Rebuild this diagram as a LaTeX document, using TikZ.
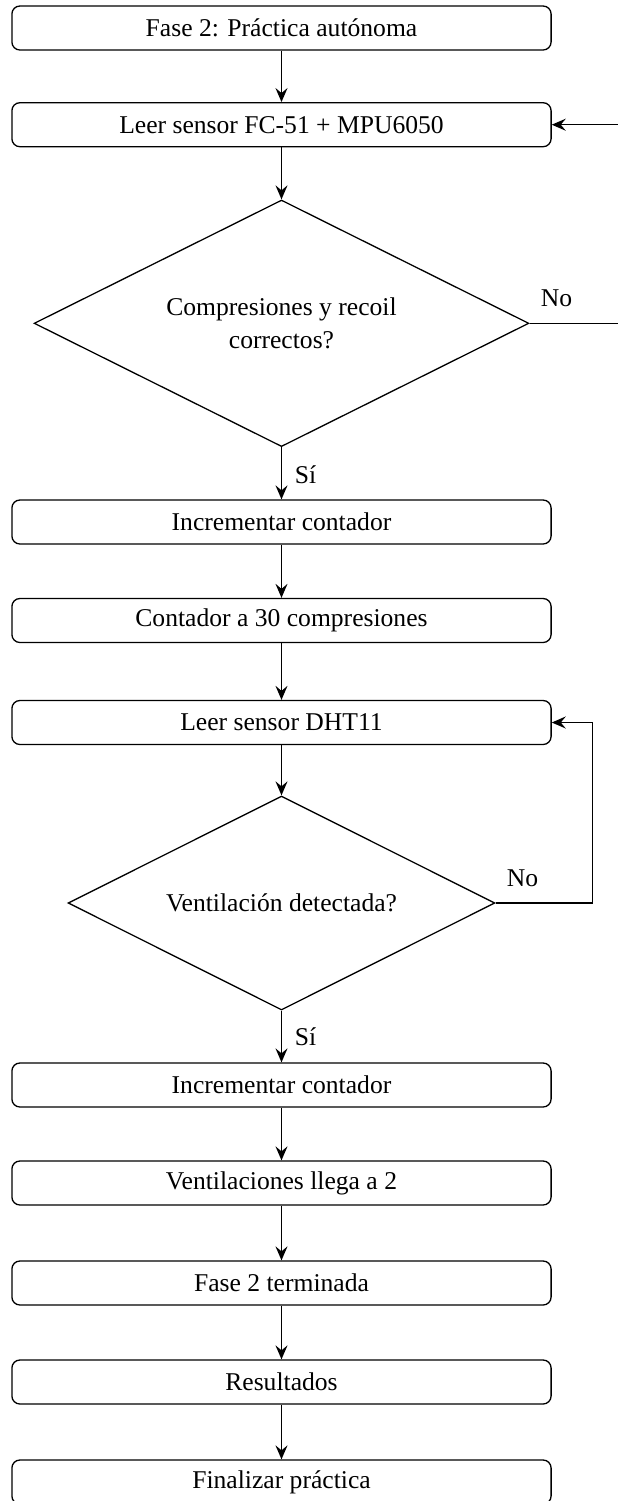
\documentclass[tikz,border=0pt]{standalone}
\usepackage{fontspec}
\setmainfont{Liberation Serif}
\usetikzlibrary{shapes.geometric,arrows.meta,calc}
\begin{document}
\begin{tikzpicture}[x=0.5pt,y=-0.5pt,
  font=\fontsize{12.8}{16.5}\selectfont,
  stepbox/.style={draw, line width=0.65pt, rounded corners=4pt, minimum width=269.6pt, minimum height=22pt, inner sep=0pt},
  decision/.style={draw, line width=0.65pt, shape=diamond, aspect=2, align=center, inner sep=0pt},
  conn/.style={line width=0.75pt, -{Stealth[length=7pt,width=6pt,inset=2.5pt]}},
  lbl/.style={inner sep=0pt}]
\useasboundingbox (0,0) rectangle (617,1501);
\node[stepbox] (b1) at (281.5,28) {Fase 2: Práctica autónoma};
\node[stepbox] (b2) at (281.5,124.7) {Leer sensor FC-51 + MPU6050};
\node[decision, minimum width=247.4pt, minimum height=123.3pt] (d1) at (281.5,323.3) {Compresiones y recoil\\correctos?};
\node[stepbox] (b3) at (281.5,522) {Incrementar contador};
\node[stepbox] (b4) at (281.5,620.5) {Contador a 30 compresiones};
\node[stepbox] (b5) at (281.5,722.5) {Leer sensor DHT11};
\node[decision, minimum width=213.4pt, minimum height=107pt] (d2) at (281.5,903) {Ventilación detectada?};
\node[stepbox] (b6) at (281.5,1085) {Incrementar contador};
\node[stepbox] (b7) at (281.5,1183) {Ventilaciones llega a 2};
\node[stepbox] (b8) at (281.5,1283) {Fase 2 terminada};
\node[stepbox] (b9) at (281.5,1382) {Resultados};
\node[stepbox] (b10) at (281.5,1482) {Finalizar práctica};
\coordinate (r1) at (640,0);
\coordinate (r2) at (592.3,0);
\draw[conn] (b1) -- (b2);
\draw[conn] (b2) -- (d1);
\draw[conn] (d1) -- node[right, xshift=3pt, yshift=-0.5pt] {Sí} (b3);
\draw[conn] (b3) -- (b4);
\draw[conn] (b4) -- (b5);
\draw[conn] (b5) -- (d2);
\draw[conn] (d2) -- node[right, xshift=3pt, yshift=0pt] {Sí} (b6);
\draw[conn] (b6) -- (b7);
\draw[conn] (b7) -- (b8);
\draw[conn] (b8) -- (b9);
\draw[conn] (b9) -- (b10);
\draw[conn] (d1.east) -- (d1.east -| r1) -- (b2.east -| r1) -- (b2.east);
\draw[conn] (d2.east) -- (d2.east -| r2) -- (b5.east -| r2) -- (b5.east);
\node[lbl, anchor=base west] (n1) at ($(d1.east)+(11,-17)$) {No};
\node[lbl, anchor=base west] (n2) at ($(d2.east)+(11,-17)$) {No};
\end{tikzpicture}
\end{document}
